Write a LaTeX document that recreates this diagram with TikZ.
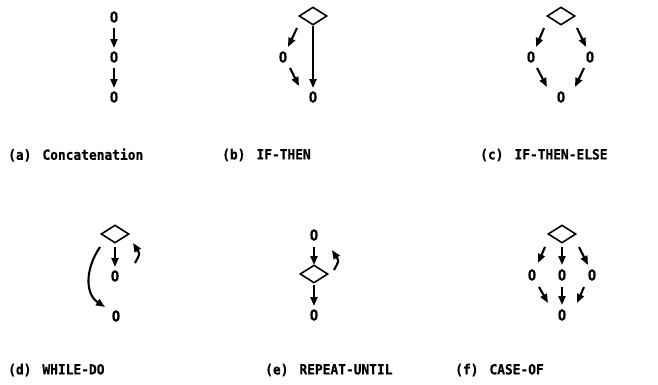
\documentclass[tikz,border=0pt]{standalone}
\usepackage{fontspec}
\newfontfamily\labfont{DejaVu Sans Mono Bold}[FakeStretch=0.92,FakeBold=0.6]
\usetikzlibrary{arrows.meta,shapes.geometric,calc}
\begin{document}
\begin{tikzpicture}[x=1pt,y=-1pt,
  lab/.style={anchor=west,inner sep=0,font=\labfont\fontsize{14}{14}\selectfont},
  st/.style={inner sep=0,font=\labfont\fontsize{15}{15}\selectfont},
  dec/.style={draw,shape=diamond,minimum width=28pt,minimum height=18pt,inner sep=0,line width=1.6pt,line join=miter},
  arr/.style={line width=2.1pt,-{Triangle[length=9pt,width=7pt]}}
]
\useasboundingbox (0,0) rectangle (658,384);
% (a)
\node[st] (A1) at (114,17) {O};
\node[st] (A2) at (114,57) {O};
\node[st] (A3) at (114,97) {O};
\draw[arr] ($(A1)+(0,11)$) -- ($(A2)+(0,-9)$);
\draw[arr] ($(A2)+(0,11)$) -- ($(A3)+(0,-9)$);
% (b)
\node[dec] (B0) at (313,16) {};
\node[st] (BL) at (283,57) {O};
\node[st] (BB) at (313,97) {O};
\draw[arr] ($(B0)+(-16,12)$) -- ($(BL)+(5,-10)$);
\draw[arr] ($(B0)+(0,10)$) -- ($(BB)+(0,-9)$);
\draw[arr] ($(BL)+(7,11)$) -- ($(BB)+(-14,-11)$);
% (c)
\node[dec] (C0) at (561,16) {};
\node[st] (CL) at (531,57) {O};
\node[st] (CR) at (590,57) {O};
\node[st] (CB) at (561,97) {O};
\draw[arr] ($(C0)+(-17,12)$) -- ($(CL)+(5,-10)$);
\draw[arr] ($(C0)+(16,12)$) -- ($(CR)+(-4,-10)$);
\draw[arr] ($(CL)+(6,11)$) -- ($(CB)+(-14,-10)$);
\draw[arr] ($(CR)+(-6,11)$) -- ($(CB)+(14,-10)$);
% (d)
\node[dec] (D0) at (115,234) {};
\node[st] (D1) at (115,276) {O};
\node[st] (D2) at (116,316) {O};
\draw[arr] ($(D0)+(0,13)$) -- ($(D1)+(0,-9)$);
\draw[arr] ($(D0)+(20,29)$) .. controls ($(D0)+(25,20)$) .. ($(D0)+(18,9)$);
\draw[arr] ($(D0)+(-15,13)$) .. controls ($(D0)+(-30,35)$) and ($(D0)+(-30,60)$) .. ($(D2)+(-11,-9)$);
% (e)
\node[st] (E1) at (314,235) {O};
\node[dec] (E0) at (314,274) {};
\node[st] (E2) at (314,315) {O};
\draw[arr] ($(E1)+(0,12)$) -- ($(E0)+(0,-9)$);
\draw[arr] ($(E0)+(0,11)$) -- ($(E2)+(0,-9)$);
\draw[arr] ($(E0)+(20,-4)$) .. controls ($(E0)+(25,-13)$) .. ($(E0)+(18,-24)$);
% (f)
\node[dec] (F0) at (562,234) {};
\node[st] (FL) at (532,275) {O};
\node[st] (FM) at (562,275) {O};
\node[st] (FR) at (592,275) {O};
\node[st] (FB) at (562,315) {O};
\draw[arr] ($(F0)+(-17,13)$) -- ($(FL)+(6,-12)$);
\draw[arr] ($(F0)+(0,13)$) -- ($(FM)+(0,-10)$);
\draw[arr] ($(F0)+(17,13)$) -- ($(FR)+(-4,-10)$);
\draw[arr] ($(FL)+(7,12)$) -- ($(FB)+(-14,-12)$);
\draw[arr] ($(FM)+(0,12)$) -- ($(FB)+(0,-10)$);
\draw[arr] ($(FR)+(-8,12)$) -- ($(FB)+(15,-12)$);
% labels
\node[lab] (La) at (8,155) {(a)\hspace{11pt}Concatenation};
\node[lab] (Lb) at (222,155) {(b)\hspace{11pt}IF-THEN};
\node[lab] (Lc) at (480,155) {(c)\hspace{11pt}IF-THEN-ELSE};
\node[lab] (Ld) at (8,370) {(d)\hspace{11pt}WHILE-DO};
\node[lab] (Le) at (265,370) {(e)\hspace{11pt}REPEAT-UNTIL};
\node[lab] (Lf) at (455,370) {(f)\hspace{11pt}CASE-OF};
\end{tikzpicture}
\end{document}
